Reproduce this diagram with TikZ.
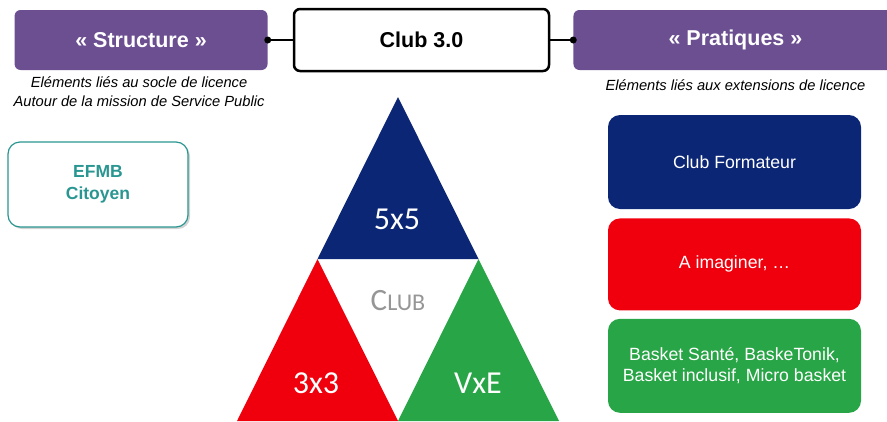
\documentclass[tikz,border=0pt]{standalone}
\usepackage{fontspec}
\setmainfont{Liberation Sans}
\newfontfamily\carlito{Carlito}
\usetikzlibrary{positioning,shadows}
\definecolor{clubpurple}{RGB}{108,79,145}
\definecolor{clubblue}{RGB}{11,38,117}
\definecolor{clubred}{RGB}{240,0,12}
\definecolor{clubgreen}{RGB}{40,165,70}
\definecolor{clubteal}{RGB}{42,150,145}
\definecolor{clubgray}{RGB}{150,150,150}
\tikzset{
  headbox/.style={fill=clubpurple, text=white, rounded corners=6, minimum height=60,
    font=\bfseries\fontsize{21.5}{25}\selectfont},
  note/.style={font=\itshape\fontsize{14.7}{19}\selectfont, align=center, inner sep=0},
  pratbox/.style={rounded corners=12, text=white, minimum width=253, align=center,
    font=\fontsize{17.7}{21}\selectfont},
  trilabel/.style={text=white, font=\carlito\fontsize{32}{36}\selectfont},
}
\begin{document}
\begin{tikzpicture}[x=1pt,y=-1pt]
\def\r{3.5}
\def\lw{2}
\useasboundingbox (0,0) rectangle (887,421);

\node [draw, line width=2.5, rounded corners=6, minimum width=255, minimum height=62,
  font=\bfseries\fontsize{21.5}{25}\selectfont, name=club] at (421.5,40) {Club 3.0};
\node [headbox, minimum width=253, left=25pt of club, name=structure] {« Structure »};
\node [headbox, minimum width=324, right=23pt of club, name=pratiques] {« Pratiques »};
\draw [line width=\lw] (structure.east) -- (club.west);
\draw [line width=\lw] (club.east) -- (pratiques.west);
\fill (structure.east) circle (\r);
\fill (pratiques.west) circle (\r);

\node [note, below=6pt of structure, xshift=-2pt, name=socle]
  {Eléments liés au socle de licence\\Autour de la mission de Service Public};
\node [note, below=9pt of pratiques, name=extensions] {Eléments liés aux extensions de licence};

\node [draw=clubteal, line width=1.2, fill=white, rounded corners=12, minimum width=180,
  minimum height=85, align=center, text=clubteal, font=\bfseries\fontsize{17.5}{22}\selectfont,
  drop shadow={shadow xshift=2pt, shadow yshift=-2pt, opacity=.35}, name=efmb]
  at (98,184.5) {EFMB\\Citoyen};

% triangle
\coordinate (top) at (398,97);
\coordinate (ml) at (317.5,259);
\coordinate (mr) at (478.5,259);
\coordinate (bl) at (237,421);
\coordinate (bm) at (398,421);
\coordinate (br) at (559,421);
\fill [clubblue] (top) -- (ml) -- (mr) -- cycle;
\fill [clubred] (ml) -- (bl) -- (bm) -- cycle;
\fill [clubgreen] (mr) -- (bm) -- (br) -- cycle;
\node [trilabel, name=t5x5] at (397,219) {5x5};
\node [trilabel, name=t3x3] at (316,383) {3x3};
\node [trilabel, name=tvxe] at (478,383) {VxE};
\node [text=clubgray, font=\carlito, name=tclub] at (398,301)
  {\fontsize{31}{36}\selectfont C\fontsize{24}{36}\selectfont LUB};

\node [pratbox, fill=clubblue, minimum height=94, name=formateur] at (734.5,162) {Club Formateur};
\node [pratbox, fill=clubred, minimum height=92, below=9pt of formateur, name=imaginer] {A imaginer, \dots};
\node [pratbox, fill=clubgreen, minimum height=94, below=8pt of imaginer, name=basket]
  {Basket Santé, BaskeTonik,\\Basket inclusif, Micro basket};
\end{tikzpicture}
\end{document}
